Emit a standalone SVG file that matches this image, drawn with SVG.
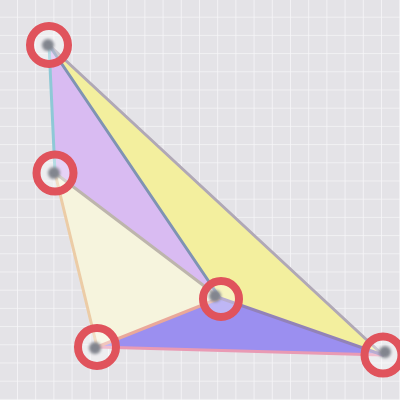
<svg xmlns="http://www.w3.org/2000/svg" width="400" height="400" viewBox="0 0 400 400">
<defs>
<pattern id="grid" x="-1.2" y="-1.5" width="18.2" height="18.2" patternUnits="userSpaceOnUse">
<rect width="18.2" height="18.2" fill="#e4e3e7"/>
<path d="M0 0 H18.2 M0 0 V18.2" stroke="#f6f6f8" stroke-width="1.6" fill="none"/>
</pattern>
<filter id="soft" x="-10%" y="-10%" width="120%" height="120%"><feGaussianBlur stdDeviation="0.7"/></filter>
<filter id="blur2" x="-50%" y="-50%" width="200%" height="200%"><feGaussianBlur stdDeviation="1.5"/></filter>
<style>
.ring{fill:rgba(255,255,255,0.35);stroke:#e0525b;stroke-width:8}
.dot{fill:#82858e;filter:url(#blur2)}
.e{fill:none;stroke-width:3;stroke-linecap:round}
</style>
</defs>
<rect width="400" height="400" fill="url(#grid)"/>
<g filter="url(#soft)">
<g id="faces">
<polygon points="49,45 55,173 220,298" fill="#d9bbf2"/>
<polygon points="49,45 220,298 383,355" fill="#f3ef9e"/>
<polygon points="55,173 97,347 220,298" fill="#f6f4dd"/>
<polygon points="97,347 220,298 383,355" fill="#9b8ff0"/>
</g>
<g id="connectors">
<line class="e" x1="49" y1="45" x2="55" y2="173" stroke="#8ec9d6"/>
<line class="e" x1="55" y1="173" x2="97" y2="347" stroke="#eccca6"/>
<line class="e" x1="97" y1="347" x2="383" y2="355" stroke="#e99ab4"/>
<line class="e" x1="49" y1="45" x2="383" y2="355" stroke="#b0a8b6"/>
<line class="e" x1="55" y1="173" x2="220" y2="298" stroke="#bdb5ac"/>
<line class="e" x1="49" y1="45" x2="220" y2="298" stroke="#7f93b3"/>
<line class="e" x1="97" y1="347" x2="220" y2="298" stroke="#eaa89a"/>
<line class="e" x1="220" y1="298" x2="383" y2="355" stroke="#9282b8"/>
</g>
<g id="v-top"><circle class="ring" cx="49" cy="45" r="19"/><circle class="dot" cx="48" cy="45" r="6"/></g>
<g id="v-midleft"><circle class="ring" cx="55" cy="173" r="18.5"/><circle class="dot" cx="54" cy="173" r="6"/></g>
<g id="v-bottomleft"><circle class="ring" cx="97" cy="347" r="19"/><circle class="dot" cx="95" cy="348" r="6"/></g>
<g id="v-center"><circle class="ring" cx="221" cy="299" r="18"/><circle class="dot" cx="215" cy="296" r="6"/></g>
<g id="v-right"><circle class="ring" cx="383" cy="355" r="18.5"/><circle class="dot" cx="385" cy="352" r="6"/></g>
</g>
</svg>
